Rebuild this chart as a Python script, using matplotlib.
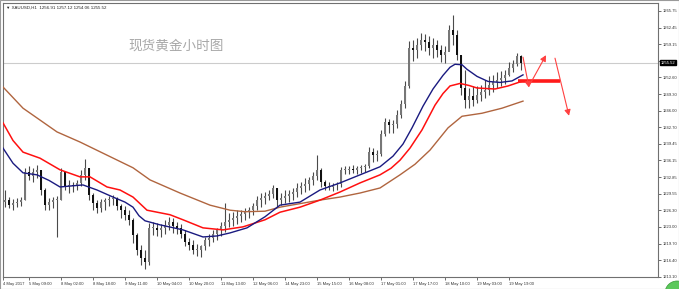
import matplotlib
matplotlib.use("Agg")
import matplotlib.pyplot as plt
from matplotlib.transforms import blended_transform_factory
from matplotlib.patches import Rectangle, Ellipse

# ---------------- data (2-hour bars) ----------------
first_open = 1228.0
highs = [1230.3, 1228.9, 1228.5, 1228.7, 1228.9, 1234.7, 1235.1, 1234.7, 1235.3, 1234.3,
         1230.7, 1228.7, 1228.9, 1229.1, 1234.7, 1233.9, 1232.3, 1231.9, 1232.3, 1234.3,
         1236.4, 1234.7, 1229.7, 1228.3, 1228.5, 1228.7, 1229.1, 1229.3, 1228.9, 1227.5,
         1227.1, 1226.3, 1224.8, 1221.8, 1219.4, 1218.4, 1223.8, 1224.0, 1223.8, 1223.6,
         1224.4, 1225.0, 1224.8, 1224.0, 1223.6, 1222.4, 1220.8, 1220.4, 1219.6, 1219.4,
         1221.0, 1221.6, 1222.4, 1222.8, 1224.0, 1227.7, 1225.7, 1225.9, 1226.3, 1226.3,
         1226.7, 1226.9, 1227.7, 1229.1, 1229.7, 1229.9, 1230.3, 1231.3, 1230.7, 1229.7,
         1230.3, 1230.3, 1230.7, 1231.7, 1231.9, 1232.7, 1232.9, 1233.9, 1237.2, 1234.7,
         1232.3, 1231.9, 1231.7, 1231.9, 1234.9, 1235.1, 1235.1, 1235.3, 1235.1, 1235.3,
         1235.5, 1238.8, 1238.6, 1238.2, 1242.2, 1244.6, 1244.4, 1244.2, 1246.1, 1248.1,
         1251.9, 1259.8, 1260.0, 1260.4, 1261.4, 1261.2, 1260.8, 1260.4, 1260.0, 1259.0,
         1258.8, 1263.0, 1265.0, 1262.0, 1257.0, 1254.1, 1250.5, 1250.9, 1250.9, 1251.1,
         1252.1, 1252.9, 1253.1, 1253.7, 1253.9, 1254.1, 1255.6, 1256.0, 1257.4, 1257.1]
lows = [1226.9, 1226.7, 1226.3, 1226.9, 1227.1, 1228.3, 1232.3, 1231.9, 1232.7, 1229.3,
        1226.3, 1226.3, 1226.7, 1221.0, 1228.3, 1230.3, 1229.7, 1229.9, 1230.3, 1231.1,
        1232.3, 1228.3, 1226.3, 1225.7, 1225.9, 1226.3, 1227.1, 1227.3, 1226.3, 1224.8,
        1224.4, 1223.4, 1219.8, 1217.4, 1215.5, 1214.7, 1215.5, 1221.4, 1221.2, 1221.0,
        1221.6, 1222.4, 1221.8, 1221.6, 1220.8, 1219.2, 1218.4, 1217.6, 1217.2, 1217.0,
        1218.4, 1219.2, 1220.0, 1220.4, 1221.2, 1222.0, 1223.0, 1223.2, 1223.6, 1224.0,
        1224.4, 1224.8, 1225.4, 1226.3, 1226.9, 1227.5, 1228.3, 1228.7, 1226.9, 1227.3,
        1227.7, 1227.9, 1228.3, 1228.9, 1229.5, 1229.9, 1230.3, 1231.3, 1232.3, 1230.9,
        1230.3, 1230.3, 1230.1, 1230.3, 1230.9, 1233.5, 1233.5, 1233.7, 1233.5, 1233.7,
        1233.9, 1234.7, 1235.8, 1236.0, 1237.0, 1241.0, 1241.6, 1241.6, 1242.6, 1244.6,
        1246.5, 1250.5, 1255.8, 1256.4, 1258.0, 1257.8, 1257.0, 1256.4, 1256.6, 1255.6,
        1255.4, 1258.0, 1259.0, 1256.0, 1249.1, 1246.5, 1246.5, 1246.9, 1247.5, 1247.9,
        1248.5, 1249.1, 1249.7, 1250.5, 1250.9, 1251.3, 1252.9, 1253.7, 1254.9, 1254.06]
closes = [1228.3, 1227.3, 1227.7, 1227.9, 1228.3, 1233.9, 1233.1, 1233.9, 1234.3, 1230.3,
          1227.3, 1227.9, 1228.3, 1228.3, 1233.9, 1231.1, 1231.3, 1231.1, 1231.7, 1233.3,
          1234.7, 1229.3, 1227.7, 1226.7, 1227.9, 1228.3, 1228.5, 1228.7, 1227.1, 1226.3,
          1225.4, 1224.4, 1221.4, 1218.4, 1216.8, 1216.0, 1222.8, 1222.8, 1222.4, 1222.8,
          1223.4, 1224.0, 1223.2, 1222.8, 1221.6, 1220.0, 1219.4, 1218.4, 1218.4, 1219.2,
          1220.4, 1220.8, 1221.6, 1222.4, 1223.2, 1224.0, 1224.4, 1224.8, 1225.2, 1225.6,
          1225.9, 1226.3, 1227.1, 1228.3, 1228.7, 1229.1, 1229.5, 1230.7, 1228.3, 1228.7,
          1229.1, 1229.5, 1229.9, 1230.7, 1231.1, 1231.5, 1232.3, 1233.1, 1234.3, 1231.9,
          1231.1, 1230.9, 1231.3, 1231.5, 1234.3, 1234.3, 1234.5, 1234.3, 1234.7, 1234.9,
          1235.1, 1237.8, 1237.2, 1237.4, 1241.4, 1243.8, 1243.2, 1243.4, 1245.2, 1247.3,
          1250.9, 1258.4, 1258.0, 1259.0, 1260.0, 1259.6, 1258.4, 1259.0, 1258.0, 1257.0,
          1257.6, 1262.0, 1261.0, 1257.0, 1250.5, 1248.1, 1248.9, 1248.1, 1249.1, 1249.7,
          1250.1, 1251.1, 1251.7, 1252.1, 1252.5, 1253.1, 1254.5, 1255.3, 1256.91, 1255.52]

# moving averages: (bar index, value) readings
ma_blue_x = [-0.5, 2, 4.5, 8, 11, 13.75, 16.5, 19.5, 23, 27, 30, 32, 33.5, 35, 38.75, 44.5,
             49.5, 53, 56.25, 60.5, 65, 68.75, 73.75, 78.75, 83.75, 88.75, 93.75, 97, 99.5,
             101.75, 104.5, 107, 109.5, 111.25, 112.5, 114.25, 115.5, 118, 120.75, 123.75,
             126.75, 129.5]
ma_blue_y = [1238.6, 1235.6, 1233.7, 1233.3, 1232.2, 1230.9, 1231.1, 1231.3, 1230.3, 1228.9,
             1227.9, 1226.9, 1225.2, 1224.2, 1223.4, 1222.4, 1221.0, 1221.2, 1221.8, 1222.8,
             1225.0, 1227.3, 1227.9, 1230.3, 1231.7, 1233.3, 1234.9, 1237.0, 1239.4, 1242.6,
             1246.9, 1250.3, 1253.0, 1254.6, 1255.2, 1255.1, 1254.2, 1252.8, 1251.8, 1251.6,
             1251.9, 1253.1]
ma_red_x = [-0.5, 2, 4.5, 8.75, 13.75, 18.75, 21.25, 25.5, 28.75, 32, 35.5, 41.25, 44.5,
            49.5, 54.5, 59.5, 65, 68.75, 73.75, 78.75, 83.75, 88.75, 93.75, 96.5, 98.75,
            101.25, 104.25, 107.5, 109.5, 111.25, 113.75, 116, 118, 122.5, 125.75, 129.5]
ma_red_y = [1243.6, 1240.1, 1237.8, 1236.6, 1234.3, 1232.9, 1232.9, 1230.9, 1230.3, 1228.9,
            1226.3, 1225.4, 1224.4, 1222.8, 1222.4, 1223.0, 1224.4, 1225.9, 1226.9, 1228.3,
            1229.9, 1231.7, 1233.3, 1234.6, 1236.2, 1238.6, 1242.2, 1247.1, 1249.4, 1250.9,
            1251.4, 1251.0, 1250.5, 1250.3, 1250.9, 1251.9]
ma_brown_x = [-0.5, 4.5, 13, 18.75, 25.5, 32, 36.25, 43.75, 51.25, 56.25, 60, 65, 68.75,
              78.75, 83.75, 88.75, 93.75, 98.75, 102.5, 106.25, 110.75, 114.25, 119.25,
              124.25, 129.5]
ma_brown_y = [1250.7, 1246.5, 1241.8, 1239.8, 1237.2, 1234.7, 1232.3, 1229.7, 1227.3, 1226.3,
              1226.0, 1226.1, 1226.9, 1228.3, 1228.9, 1229.7, 1230.7, 1233.3, 1235.4, 1238.2,
              1242.6, 1244.9, 1245.5, 1246.5, 1247.9]

current_price = 1255.52
level_line = (128.25, 138.75, 1251.9)            # x0, x1, price
arrows = [((129.5, 1256.6), (131.0, 1250.6)),
          ((131.0, 1250.9), (135.25, 1257.0)),
          ((137.5, 1256.4), (141.0, 1245.0))]

y_ticks = [1265.75, 1262.45, 1259.15, 1255.90, 1252.60, 1249.30, 1246.00, 1242.70,
           1239.45, 1236.15, 1232.85, 1229.55, 1226.30, 1223.00, 1219.70, 1216.40, 1213.10]
x_tick_pos = [-0.5, 6, 14, 22, 30, 38, 46, 54, 62, 70, 78, 86, 94, 102, 110, 118, 126]
x_tick_lab = ["4 May 2017", "5 May 09:00", "8 May 02:00", "8 May 18:00", "9 May 11:00",
              "10 May 04:00", "10 May 20:00", "11 May 13:00", "12 May 06:00", "14 May 23:00",
              "15 May 15:00", "16 May 08:00", "17 May 01:00", "17 May 17:00", "18 May 10:00",
              "19 May 03:00", "19 May 19:00"]
header = "\u25bc XAUUSD,H1  1256.91 1257.12 1254.06 1255.52"
title = "现货黄金小时图"

FAM = ["Liberation Sans", "DejaVu Sans"]
FS = 3.0

# ---------------- figure ----------------
W, H = 679, 289
fig = plt.figure(figsize=(W / 100, H / 100), dpi=100)
fig.patch.set_facecolor("white")
ax = fig.add_axes([3 / W, 1 - 277 / H, (658 - 3) / W, (277 - 2.5) / H])
ax.set_xlim(-0.5, 163.25)
ax.set_ylim(1213.07, 1267.43)

# outer frame of the window
fig.add_artist(Rectangle((0.3 / W, 0.3 / H), 1 - 0.6 / W, 1 - 0.6 / H, transform=fig.transFigure,
                         fill=False, edgecolor="#9a9a9a", lw=0.8))
# small green badge at the bottom-right corner
fig.add_artist(Ellipse((677 / W, 1 - 293 / H), 24 / W, 24 / H, transform=fig.transFigure,
                       facecolor="#5cc85c", edgecolor="#3a9a3a", lw=0.5))

# current price line
ax.axhline(current_price, color="#cccccc", lw=0.8, zorder=1)

# candles
n = len(closes)
idx = list(range(n))
opens = [first_open] + closes[:-1]
ax.vlines(idx, lows, highs, colors="#4a4a4a", lw=0.8, zorder=3)
body_h = [max(abs(c - o), 0.15) for o, c in zip(opens, closes)]
body_b = [min(o, c) for o, c in zip(opens, closes)]
body_c = ["#111111" if c < o else "#777777" for o, c in zip(opens, closes)]
ax.bar(idx, body_h, bottom=body_b, width=0.45, color=body_c, lw=0, zorder=4)

# moving averages
ax.plot(ma_brown_x, ma_brown_y, color="#b0653f", lw=1.0, zorder=5)
ax.plot(ma_red_x, ma_red_y, color="#ff1010", lw=1.1, zorder=5)
ax.plot(ma_blue_x, ma_blue_y, color="#1a1a80", lw=1.0, zorder=5)

# drawn objects
ax.plot([level_line[0], level_line[1]], [level_line[2], level_line[2]], color="#ff1a1a",
        lw=2.6, solid_capstyle="butt", zorder=6)
for (x0, y0), (x1, y1) in arrows:
    ax.annotate("", xy=(x1, y1), xytext=(x0, y0),
                arrowprops=dict(arrowstyle="-|>,head_length=0.35,head_width=0.18",
                                color="#ff4040", lw=0.8, shrinkA=0, shrinkB=0), zorder=7)

# texts
ax.text(0.004, 0.988, header, transform=ax.transAxes, ha="left", va="top", fontsize=3.2,
        family=FAM, color="#222222")
fig.text(176 / W, 1 - 46 / H, title, ha="center", va="center", fontsize=9.8,
         family=["Noto Sans CJK SC", "DejaVu Sans"], color="#a8a8a8")

# axes styling
for s in ax.spines.values():
    s.set_color("#707070")
    s.set_linewidth(0.8)
ax.yaxis.tick_right()
ax.set_yticks(y_ticks)
# the label next to the current-price box is hidden behind it in the reference
ax.set_yticklabels(["" if abs(v - current_price) < 1.0 else f"{v:.2f}" for v in y_ticks])
ax.tick_params(axis="y", length=2, width=0.5, pad=1.2, labelsize=FS, colors="#333333")
ax.set_xticks(x_tick_pos)
ax.set_xticklabels(x_tick_lab)
ax.tick_params(axis="x", length=2, width=0.5, pad=1.5, labelsize=FS, colors="#333333")
for lab in ax.get_xticklabels():
    lab.set_horizontalalignment("left")
    lab.set_family(FAM)
for lab in ax.get_yticklabels():
    lab.set_family(FAM)

# highlighted current price on the right scale
tr = blended_transform_factory(ax.transAxes, ax.transData)
ax.text(1.004, current_price, f"{current_price:.2f}", transform=tr, ha="left", va="center",
        fontsize=FS, color="white", family=FAM,
        bbox=dict(boxstyle="square,pad=0.2", fc="black", ec="black"), zorder=10, clip_on=False)

fig.savefig("out.png", dpi=100, facecolor="white")
